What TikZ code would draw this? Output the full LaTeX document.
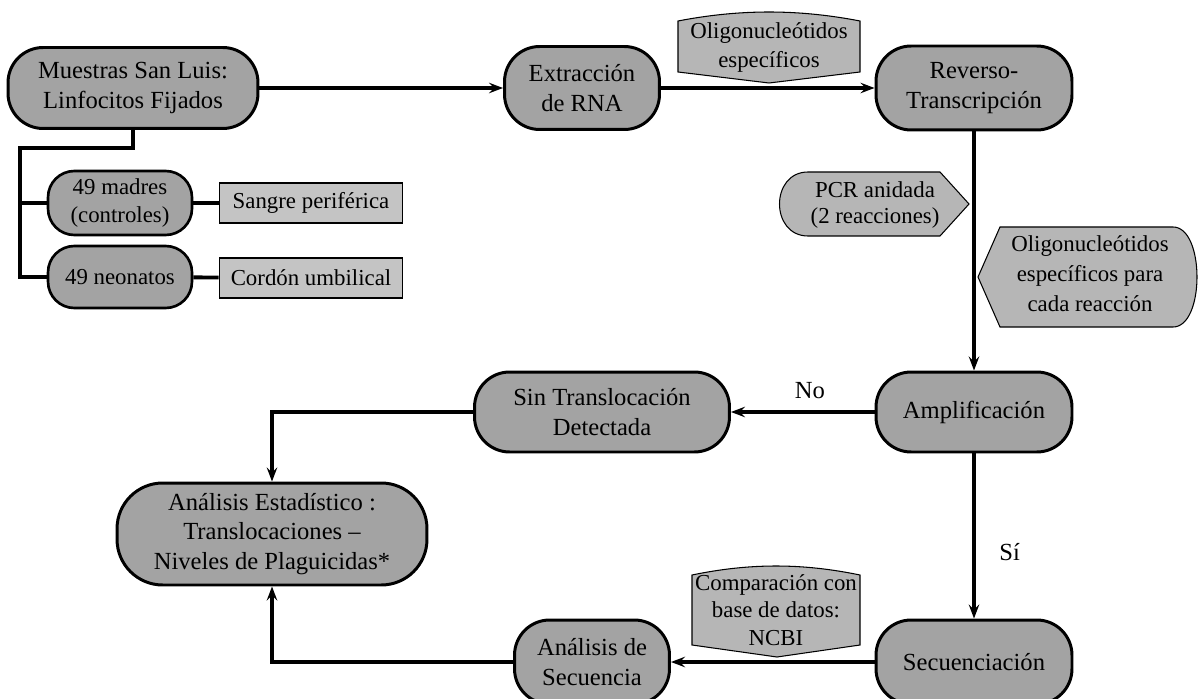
\documentclass[tikz,border=0pt]{standalone}
\usepackage{fontspec}
\setmainfont{Liberation Serif}
\usepackage{xcolor}
\usetikzlibrary{arrows.meta,positioning}
\definecolor{procgray}{HTML}{A3A3A3}
\definecolor{notegray}{HTML}{B6B6B6}
\definecolor{taggray}{HTML}{C4C4C4}
\tikzset{
  proc/.style={rectangle, rounded corners=20pt, draw, line width=1.7pt,
               fill=procgray, align=center, inner sep=0pt,
               font=\fontsize{14}{17}\selectfont},
  grp/.style={rectangle, rounded corners=15pt, draw, line width=1.5pt,
              fill=procgray, align=center, inner sep=0pt,
              minimum width=2.88cm, font=\fontsize{13}{16}\selectfont},
  tag/.style={rectangle, draw, line width=1.1pt, fill=taggray,
              inner sep=0pt, minimum width=3.66cm, minimum height=0.8cm,
              font=\fontsize{13}{16}\selectfont},
  callout/.style={draw, line width=0.6pt, fill=notegray},
  note/.style={align=center, inner sep=0pt, font=\fontsize{13}{16}\selectfont},
  lbl/.style={font=\fontsize{14}{17}\selectfont},
  ed/.style={-{Stealth[length=8pt, width=6pt, inset=3pt]}, line width=2.2pt},
  ln/.style={line width=2.2pt}
}

\begin{document}
\begin{tikzpicture}[x=0.02cm, y=-0.02cm]
\useasboundingbox (0,0) rectangle (1200,699);
% main flow
\node[proc, minimum width=5cm, minimum height=1.62cm] (mue) at (133,88) {Muestras San Luis:\\Linfocitos Fijados};
\node[proc, minimum width=3.1cm, minimum height=1.66cm] (ext) at (582,88) {Extracción\\de RNA};
\node[proc, minimum width=3.92cm, minimum height=1.68cm] (rev) at (974,88) {Reverso-\\Transcripción};
\node[proc, minimum width=3.92cm, minimum height=1.6cm] (amp) at (974,412) {Amplificación};
\node[proc, minimum width=5.1cm, minimum height=1.6cm] (sin) at (602,412) {Sin Translocación\\Detectada};
\node[proc, rounded corners=26pt, minimum width=6.2cm, minimum height=2.04cm] (aest) at (272,534) {Análisis Estadístico :\\Translocaciones --\\Niveles de Plaguicidas*};
\node[proc, minimum width=3.1cm, minimum height=1.68cm] (asec) at (592,662) {Análisis de\\Secuencia};
\node[proc, minimum width=3.92cm, minimum height=1.68cm] (sec) at (974,662) {Secuenciación};
% samples
\node[grp, minimum height=1.28cm] (mad) at (120,203) {49 madres\\(controles)};
\node[grp, minimum height=1.24cm] (neo) at (120,277) {49 neonatos};
\node[tag] (sang) at (311,203) {Sangre periférica};
\node[tag] (cord) at (311,278) {Cordón umbilical};
\coordinate (j1) at (20,148);
\draw[ln] (mue.south) |- (j1) -- (j1 |- neo.west) -- (neo.west);
\draw[ln] (j1 |- mad.west) -- (mad.west);
\draw[ln] (mad) -- (sang); \draw[ln] (neo) -- (cord);
% callouts
\draw[callout] (678,21) .. controls (740,9) and (798,9) .. (860,21) -- (860,72) -- (769,83) -- (678,72) -- cycle;
\node[note, font=\fontsize{13}{16.5}\selectfont] (olig) at (769,47) {Oligonucleótidos\\específicos};
\draw[callout] (808,172) -- (940,172) -- (969,204) -- (940,236) -- (808,236) .. controls (770,236) and (770,172) .. (808,172) -- cycle;
\node[note, font=\fontsize{13}{14.5}\selectfont] (pcr) at (875,205) {PCR anidada\\(2 reacciones)};
\draw[callout] (1000,227) -- (1173,227) .. controls (1205,227) and (1205,327) .. (1173,327) -- (1000,327) -- (978,277) -- cycle;
\node[note, font=\fontsize{13}{17}\selectfont] (olig2) at (1090,274) {Oligonucleótidos\\específicos para\\cada reacción};
\draw[callout] (692,575) .. controls (750,563) and (802,563) .. (860,575) -- (860,645) -- (777,657) -- (692,645) -- cycle;
\node[note, font=\fontsize{13}{15.5}\selectfont] (ncbi) at (776,610) {Comparación con\\base de datos:\\NCBI};
% connectors
\draw[ed] (mue) -- (ext);
\draw[ed] (ext) -- (rev);
\draw[ed] (rev) -- (amp);
\draw[ed] (amp) -- node[lbl, above=3pt, pos=0.45] (no) {No} (sin);
\draw[ed] (amp) -- node[lbl, right=10pt, pos=0.6] (si) {Sí} (sec);
\draw[ed] (sec) -- (asec);
\draw[ed] (sin.west) -| (aest.north);
\draw[ed] (asec.west) -| (aest.south);
\end{tikzpicture}
\end{document}
